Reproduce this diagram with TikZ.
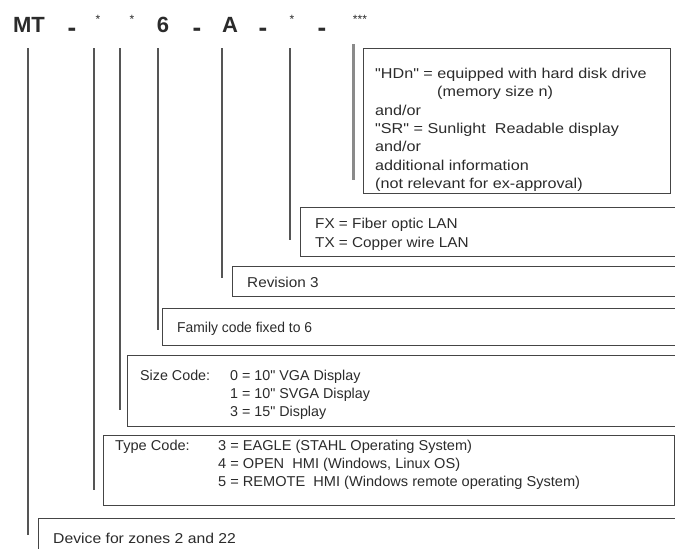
\documentclass[tikz,border=0pt]{standalone}
\usepackage{fontspec}
\setmainfont{Liberation Sans}[Ligatures=TeXOff]
\definecolor{txt}{HTML}{2B2B2B}
\definecolor{edge}{HTML}{454545}
\definecolor{vline}{HTML}{555555}
\definecolor{lgray}{HTML}{8A8A8A}
\tikzset{
  box/.style={draw=edge, line width=1.4pt, anchor=north west, inner sep=0pt},
  lbl/.style={anchor=base west, inner sep=0pt, text=txt, font=\fontsize{14.3}{18}\selectfont},
  wide/.style={font=\fontsize{14.3}{18}\selectfont\addfontfeature{FakeStretch=#1}},
  big/.style={inner sep=0pt, text=txt, font=\fontsize{22}{22}\bfseries\selectfont},
  dashmark/.style={inner sep=0pt, text=txt, font=\fontsize{26}{26}\bfseries\selectfont},
  star/.style={inner sep=0pt, text=txt, font=\fontsize{12}{12}\selectfont},
  lead/.style={draw=vline, line width=1.4pt},
  leadlight/.style={draw=lgray, line width=3pt}
}
\begin{document}
\begin{tikzpicture}[x=1pt,y=-1pt]
\useasboundingbox (0,0) rectangle (675,549);
\clip (0,0) rectangle (675,549);
\fill[white] (0,0) rectangle (675,549);

% top code row
\node[big] (mt) at (29,25) {MT};
\node[dashmark] (d1) at (72,32) {-};
\node[star] (s1) at (98,19) {*};
\node[star] (s2) at (132,19) {*};
\node[big] (six) at (163,25) {6};
\node[dashmark] (d2) at (197,32) {-};
\node[big] (a) at (230,25) {A};
\node[dashmark] (d3) at (263,32) {-};
\node[star] (s3) at (292,19) {*};
\node[dashmark] (d4) at (322,32) {-};
\node[star] (s4) at (360,19) {***};

% boxes
\node[box, minimum width=307pt, minimum height=145pt] (hd) at (363,48) {};
\node[box, minimum width=380pt, minimum height=49pt] (fx) at (300,207) {};
\node[box, minimum width=448pt, minimum height=30pt] (rev) at (232,266) {};
\node[box, minimum width=518pt, minimum height=37pt] (fam) at (162,308) {};
\node[box, minimum width=553pt, minimum height=71pt] (size) at (127,355) {};
\node[box, minimum width=571pt, minimum height=70pt] (type) at (103,435) {};
\node[box, minimum width=642pt, minimum height=45pt] (dev) at (38,518) {};

% texts (base line = visual centre + 5)
\node[lbl, wide=1.13] (h1) at (375,78.3) {"HDn" = equipped with hard disk drive};
\node[lbl, wide=1.13] (h2) at (437,96.7) {(memory size n)};
\node[lbl, wide=1.13] (h3) at (375,115) {and/or};
\node[lbl, wide=1.13] (h4) at (375,133.3) {"SR" = Sunlight\ \ Readable display};
\node[lbl, wide=1.13] (h5) at (375,151.7) {and/or};
\node[lbl, wide=1.13] (h6) at (375,170) {additional information};
\node[lbl, wide=1.13] (h7) at (375,188.3) {(not relevant for ex-approval)};

\node[lbl, wide=1.07] (f1) at (315,228) {FX = Fiber optic LAN};
\node[lbl, wide=1.07] (f2) at (315,247) {TX = Copper wire LAN};

\node[lbl, wide=1.07] (revt) at (247,287) {Revision 3};
\node[lbl, wide=0.97] (famt) at (177,332) {Family code fixed to 6};

\node[lbl] (sizek) at (140,380) {Size Code:};
\node[lbl] (z1) at (230,380) {0 = 10" VGA Display};
\node[lbl] (z2) at (230,398) {1 = 10" SVGA Display};
\node[lbl] (z3) at (230,416) {3 = 15" Display};

\node[lbl, wide=1.02] (typek) at (115,450) {Type Code:};
\node[lbl, wide=1.02] (y1) at (218,450) {3 = EAGLE (STAHL Operating System)};
\node[lbl, wide=1.02] (y2) at (218,468) {4 = OPEN\ \ HMI (Windows, Linux OS)};
\node[lbl, wide=1.02] (y3) at (218,486) {5 = REMOTE\ \ HMI (Windows remote operating System)};

\node[lbl, wide=1.1] (devt) at (53,543) {Device for zones 2 and 22};

% leader lines
\coordinate (t1) at (28,48);   \coordinate (e1) at (28,535);
\coordinate (t2) at (94,48);   \coordinate (e2) at (94,490);
\coordinate (t3) at (120,48);  \coordinate (e3) at (120,410);
\coordinate (t4) at (158,48);  \coordinate (e4) at (158,330);
\coordinate (t5) at (222,48);  \coordinate (e5) at (222,278);
\coordinate (t6) at (290,48);  \coordinate (e6) at (290,240);
\coordinate (t7) at (353,44);  \coordinate (e7) at (353,180);
\draw[lead] (t1) -- (e1);
\draw[lead] (t2) -- (e2);
\draw[lead] (t3) -- (e3);
\draw[lead] (t4) -- (e4);
\draw[lead] (t5) -- (e5);
\draw[lead] (t6) -- (e6);
\draw[leadlight] (t7) -- (e7);
\end{tikzpicture}
\end{document}
